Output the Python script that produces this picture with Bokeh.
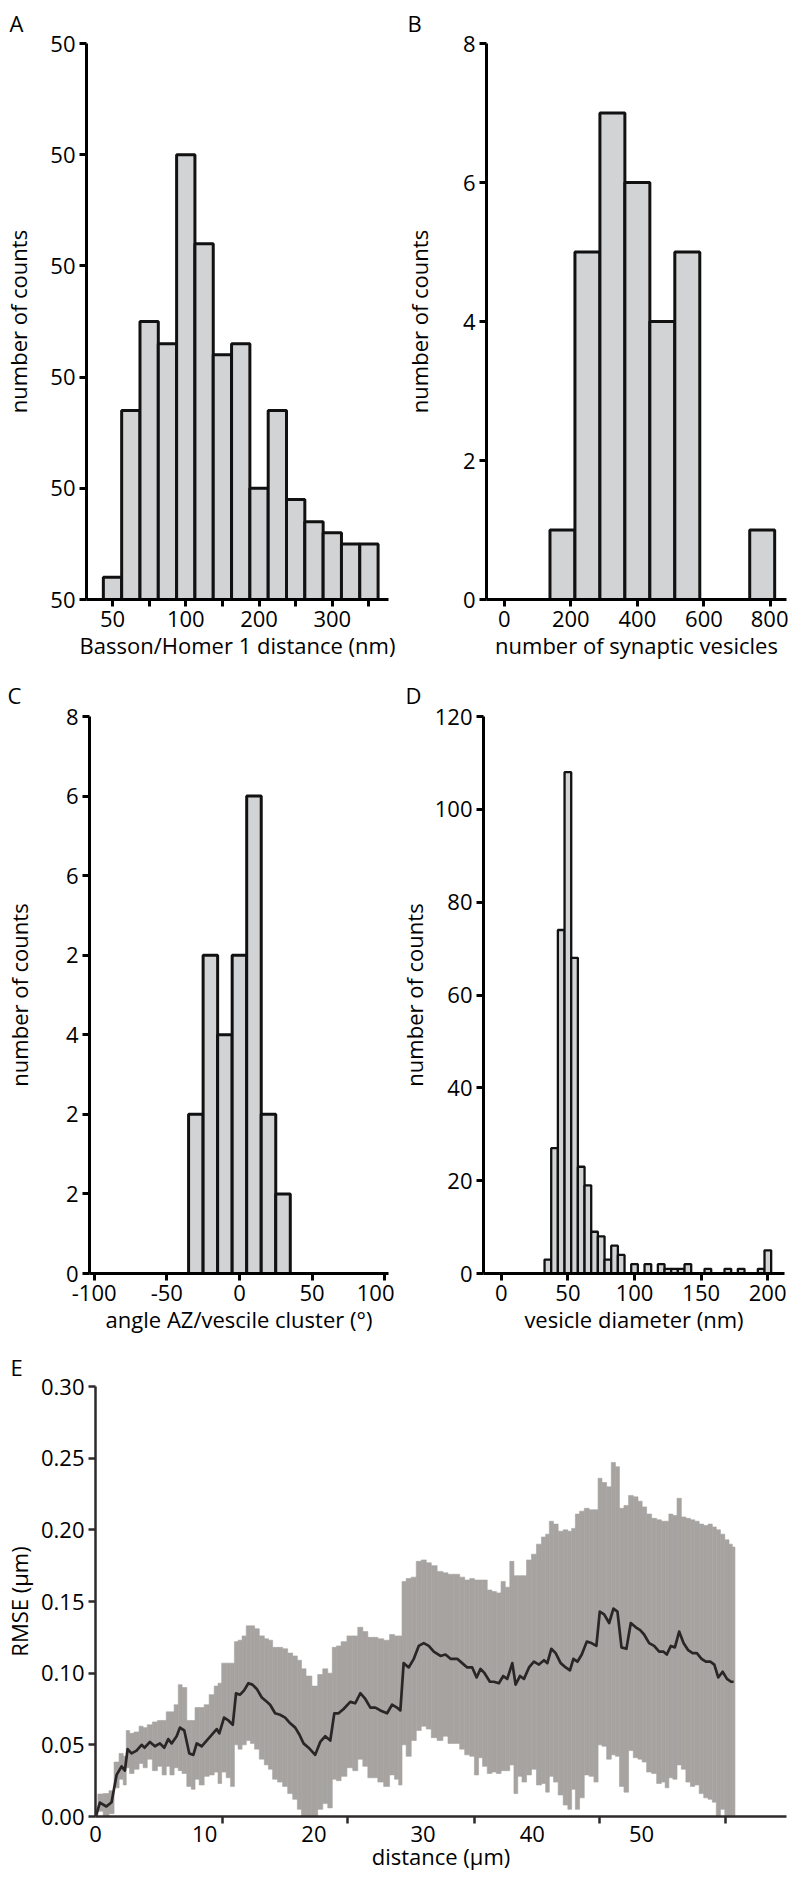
import numpy as np
from bokeh.plotting import figure
from bokeh.layouts import column, row
from bokeh.models import FixedTicker, Range1d, LinearAxis, PrintfTickFormatter, Title
from bokeh.embed import file_html
from bokeh.resources import INLINE

FONT = "Open Sans"
FS = "22px"
BAR_FILL = "#d1d3d4"
BAR_LINE = "#111111"

# ---------------- data ----------------
# A: Basson/Homer 1 distance histogram
a_centers = [0, 25, 50, 75, 100, 125, 150, 175, 200, 225, 250, 275, 300, 325, 350]
a_counts = [2, 17, 25, 23, 40, 32, 22, 23, 10, 17, 9, 7, 6, 5, 5]
a_xticks = [0, 50, 100, 150, 200, 250, 300, 350]
a_xlabels = ["50", "", "100", "", "200", "", "300", ""]
a_yticks = [0, 10, 20, 30, 40, 50]
a_ylabels = ["50", "50", "50", "50", "50", "50"]

# B: number of synaptic vesicles
b_centers = [175, 250, 325, 400, 475, 550, 775]
b_counts = [1, 5, 7, 6, 4, 5, 1]
b_xticks = [0, 200, 400, 600, 800]
b_yticks = [0, 2, 4, 6, 8]

# C: angle AZ / vesicle cluster
c_centers = [-30, -20, -10, 0, 10, 20, 30]
c_counts = [2, 4, 3, 4, 6, 2, 1]
c_xticks = [-100, -50, 0, 50, 100]
c_xlabels = ["-100", "-50", "0", "50", "100"]
c_yticks = [0, 1, 2, 3, 4, 5, 6, 7]
c_ylabels = ["0", "2", "2", "4", "2", "6", "6", "8"]

# D: vesicle diameter
d_centers = [35, 40, 45, 50, 55, 60, 65, 70, 75, 80, 85, 90, 95, 100, 105, 110, 115,
             120, 125, 130, 135, 140, 145, 150, 155, 160, 165, 170, 175, 180, 185, 190, 195, 200]
d_counts = [3, 27, 74, 108, 68, 23, 19, 9, 8, 3, 6, 4, 0, 2, 0, 2, 0,
            2, 1, 1, 1, 2, 0, 0, 1, 0, 0, 1, 0, 1, 0, 0, 1, 5]
d_xticks = [0, 50, 100, 150, 200]
d_yticks = [0, 20, 40, 60, 80, 100, 120]

# E: RMSE vs distance
e_dist = [0.03, 0.4, 1.0, 1.47, 1.93, 2.39, 2.69, 2.94, 3.3, 3.76, 4.22, 4.5, 4.98, 5.44, 5.9,
          6.3, 6.66, 6.97, 7.43, 7.73, 8.13, 8.59, 8.96, 9.27, 9.72, 10.18, 10.64, 11.1, 11.34, 11.77,
          12.17, 12.57, 12.87, 13.24, 13.61, 14.0, 14.37, 14.77, 15.23, 15.69, 15.99, 16.45, 16.9, 17.37, 17.83,
          18.29, 18.68, 19.05, 19.51, 20.12, 20.58, 21.04, 21.5, 21.87, 22.26, 22.72, 23.33, 23.79, 24.25, 24.71,
          25.17, 25.63, 26.08, 26.7, 27.16, 27.61,
          27.92, 28.22, 28.68, 29.15, 29.6, 30.06, 30.52, 30.98, 31.59, 32.05, 32.51, 33.12, 33.58, 34.04, 34.5,
          34.9, 35.26, 35.63, 36.12, 36.48, 36.94, 37.34, 37.71, 38.17, 38.47, 38.87, 39.24, 39.7, 40.15, 40.61,
          41.07, 41.38, 41.74, 42.14, 42.6, 43.06, 43.45, 43.76, 44.13, 44.53, 44.99, 45.42, 45.87, 46.18, 46.58,
          47.04, 47.43, 47.8, 48.17, 48.62, 49.02, 49.48, 49.88, 50.24, 50.7, 51.16, 51.62, 52.02, 52.32, 52.69,
          53.06, 53.45, 53.85, 54.28, 54.68, 55.07, 55.5, 55.9, 56.3, 56.67, 57.03, 57.43, 57.83, 58.2, 58.44]
e_rmse = [0.0, 0.0097, 0.007, 0.010, 0.029, 0.035, 0.032, 0.047, 0.044, 0.046, 0.050, 0.048, 0.052, 0.049, 0.051,
          0.048, 0.054, 0.051, 0.056, 0.062, 0.060, 0.044, 0.043, 0.051, 0.049, 0.053, 0.057, 0.061, 0.058, 0.069,
          0.067, 0.064, 0.086, 0.085, 0.088, 0.093, 0.092, 0.089, 0.083, 0.080, 0.078, 0.072, 0.071, 0.069, 0.065,
          0.062, 0.057, 0.051, 0.048, 0.043, 0.052, 0.056, 0.053, 0.072, 0.072, 0.075, 0.080, 0.079, 0.086, 0.082,
          0.076, 0.076, 0.074, 0.072, 0.078, 0.076,
          0.074, 0.107, 0.104, 0.110, 0.119, 0.121, 0.119, 0.115, 0.112, 0.113, 0.110, 0.110, 0.107, 0.104, 0.104,
          0.097, 0.103, 0.100, 0.094, 0.094, 0.093, 0.098, 0.096, 0.107, 0.092, 0.098, 0.096, 0.104, 0.108, 0.106,
          0.109, 0.107, 0.117, 0.114, 0.107, 0.104, 0.102, 0.110, 0.108, 0.113, 0.122, 0.121, 0.119, 0.143, 0.141,
          0.135, 0.145, 0.143, 0.118, 0.117, 0.135, 0.132, 0.130, 0.127, 0.121, 0.119, 0.115, 0.115, 0.113, 0.119,
          0.118, 0.129, 0.121, 0.116, 0.114, 0.114, 0.110, 0.108, 0.108, 0.106, 0.097, 0.101, 0.096, 0.094, 0.094]
e_sd = [0.003, 0.006, 0.009, 0.008, 0.009, 0.009, 0.010, 0.013, 0.014, 0.013, 0.013, 0.014, 0.012, 0.017, 0.016,
        0.019, 0.019, 0.022, 0.022, 0.030, 0.030, 0.023, 0.024, 0.025, 0.027, 0.025, 0.028, 0.030, 0.035, 0.038,
        0.040, 0.043, 0.036, 0.038, 0.038, 0.040, 0.041, 0.042, 0.043, 0.044, 0.045, 0.046, 0.047, 0.048, 0.049,
        0.050, 0.052, 0.052, 0.050, 0.048, 0.047, 0.047, 0.047, 0.046, 0.047, 0.047, 0.046, 0.047, 0.046, 0.047,
        0.049, 0.049, 0.050, 0.051, 0.049, 0.050,
        0.052, 0.057, 0.062, 0.057, 0.059, 0.058, 0.058, 0.060, 0.059, 0.057, 0.059, 0.059, 0.060, 0.061, 0.062,
        0.068, 0.062, 0.065, 0.064, 0.063, 0.063, 0.066, 0.064, 0.071, 0.076, 0.070, 0.072, 0.075, 0.075, 0.084,
        0.086, 0.090, 0.089, 0.090, 0.092, 0.096, 0.097, 0.091, 0.103, 0.100, 0.093, 0.093, 0.095, 0.093, 0.092,
        0.095, 0.102, 0.101, 0.097, 0.100, 0.089, 0.091, 0.090, 0.089, 0.090, 0.089, 0.092, 0.091, 0.093, 0.092,
        0.092, 0.093, 0.088, 0.092, 0.093, 0.092, 0.094, 0.095, 0.096, 0.096, 0.103, 0.096, 0.097, 0.096, 0.094]
e_xticks = [0, 10, 20, 30, 40, 50]
e_tickmarks = [11.6, 23.1, 34.7, 46.2, 57.7]
e_yticks = [0.0, 0.05, 0.10, 0.15, 0.20, 0.25, 0.30]


# ---------------- helpers ----------------
def make_fig(page_left, page_top, fl, ft, fw, fh, right, bottom, xr, yr, **kw):
    p = figure(frame_width=fw, frame_height=fh,
               min_border_left=fl - page_left, min_border_top=ft - page_top,
               min_border_right=right, min_border_bottom=bottom,
               x_range=Range1d(*xr), y_range=Range1d(*yr),
               output_backend="svg", toolbar_location=None, **kw)
    p.grid.visible = False
    p.outline_line_color = None
    p.background_fill_color = "white"
    p.border_fill_color = "white"
    return p


def style_axis(ax, color="black", lw=3):
    ax.axis_line_color = color
    ax.axis_line_width = lw
    ax.major_tick_line_color = color
    ax.major_tick_line_width = lw
    ax.major_tick_out = 7
    ax.major_tick_in = 0
    ax.minor_tick_line_color = None
    ax.major_label_text_font = FONT
    ax.major_label_text_font_size = FS
    ax.major_label_text_color = "black"
    ax.major_label_standoff = 4
    ax.axis_label_text_font = FONT
    ax.axis_label_text_font_size = FS
    ax.axis_label_text_font_style = "normal"
    ax.axis_label_text_color = "black"


def letter(p, txt, offset, standoff):
    p.title = Title(text=txt, align="left", offset=offset, standoff=standoff,
                    text_font=FONT, text_font_size=FS, text_font_style="normal",
                    text_color="black", vertical_align="bottom")


def hist(p, centers, counts, width, lw=3):
    xs = [c for c, n in zip(centers, counts) if n > 0]
    ns = [n for n in counts if n > 0]
    p.vbar(x=xs, width=width, top=ns, bottom=0, fill_color=BAR_FILL,
           line_color=BAR_LINE, line_width=lw)


def setup_hist_axes(p, xticks, yticks, xlabel, ylabel, ystandoff, xover=None, yover=None):
    style_axis(p.xaxis[0])
    style_axis(p.yaxis[0])
    p.xaxis.ticker = FixedTicker(ticks=xticks)
    p.yaxis.ticker = FixedTicker(ticks=yticks)
    if xover:
        p.xaxis.major_label_overrides = xover
    if yover:
        p.yaxis.major_label_overrides = yover
    p.xaxis.axis_label = xlabel
    p.yaxis.axis_label = ylabel
    p.xaxis.axis_label_standoff = 0
    p.yaxis.axis_label_standoff = ystandoff


# ---------------- panel A ----------------
pA = make_fig(8, 8, 90, 49, 302, 556, 8, 72, (-35.5, 376.7), (0, 50))
hist(pA, a_centers, a_counts, 25)
setup_hist_axes(pA, a_xticks, a_yticks, "Basson/Homer 1 distance (nm)", "number of counts", 14,
                xover={t: l for t, l in zip(a_xticks, a_xlabels)},
                yover={t: l for t, l in zip(a_yticks, a_ylabels)})
letter(pA, "A", -77, 11)

# ---------------- panel B ----------------
pB = make_fig(400, 8, 490, 49, 300, 556, 2, 72, (-53.2, 848.0), (0, 8))
hist(pB, b_centers, b_counts, 75)
setup_hist_axes(pB, b_xticks, b_yticks, "number of synaptic vesicles", "number of counts", 26)
letter(pB, "B", -79, 11)

# ---------------- panel C ----------------
pC = make_fig(8, 677, 95, 720, 299, 557, 6, 72, (-103.2, 102.6), (0, 7))
hist(pC, c_centers, c_counts, 10)
setup_hist_axes(pC, c_xticks, c_yticks, "angle AZ/vescile cluster (°)", "number of counts", 29,
                xover={t: l for t, l in zip(c_xticks, c_xlabels)},
                yover={t: l for t, l in zip(c_yticks, c_ylabels)})
letter(pC, "C", -82, 13)

# ---------------- panel D ----------------
pD = make_fig(400, 677, 489, 720, 301, 557, 2, 72, (-13.3, 212.5), (0, 120))
hist(pD, d_centers, d_counts, 5, lw=2.3)
setup_hist_axes(pD, d_xticks, d_yticks, "vesicle diameter (nm)", "number of counts", 3)
letter(pD, "D", -78, 13)

# ---------------- panel E ----------------
pE = make_fig(8, 1349, 99, 1388, 691, 430, 2, 62, (0, 63.28), (0, 0.30), x_axis_location=None)
x = np.array(e_dist)
m = np.array(e_rmse)
s = np.array(e_sd)
mid = (x[1:] + x[:-1]) / 2
left = np.concatenate([[max(0.0, x[0] - (x[1] - x[0]) / 2)], mid])
right = np.concatenate([mid, [x[-1] + (x[-1] - x[-2]) / 2]])
pE.quad(left=left, right=right, bottom=np.clip(m - s, 0, None), top=m + s,
        fill_color="#a6a3a1", line_color="#a6a3a1", line_width=0.6)
pE.line(x, m, line_width=2.7, line_color="#2a2627", line_join="round")

ECOL = "#2e2a2b"
style_axis(pE.yaxis[0], ECOL, 2.5)
pE.yaxis.ticker = FixedTicker(ticks=e_yticks)
pE.yaxis.formatter = PrintfTickFormatter(format="%.2f")
pE.yaxis.axis_label = "RMSE (µm)"
pE.yaxis.axis_label_standoff = 4

ax_ticks = LinearAxis(ticker=FixedTicker(ticks=e_tickmarks))
style_axis(ax_ticks, ECOL, 2.5)
ax_ticks.major_label_text_font_size = "0px"
ax_ticks.major_label_text_color = None
ax_ticks.major_label_standoff = 0
pE.add_layout(ax_ticks, "below")

ax_lab = LinearAxis(ticker=FixedTicker(ticks=e_xticks))
style_axis(ax_lab, ECOL, 2.5)
ax_lab.axis_line_color = None
ax_lab.major_tick_line_color = None
ax_lab.major_tick_out = 0
ax_lab.major_label_standoff = 2
ax_lab.axis_label = "distance (µm)"
ax_lab.axis_label_standoff = -4
pE.add_layout(ax_lab, "below")
letter(pE, "E", -85, 9)

layout = column(row(pA, pB, spacing=0), row(pC, pD, spacing=0), pE, spacing=0)
open("out.html", "w").write(file_html(layout, INLINE))
